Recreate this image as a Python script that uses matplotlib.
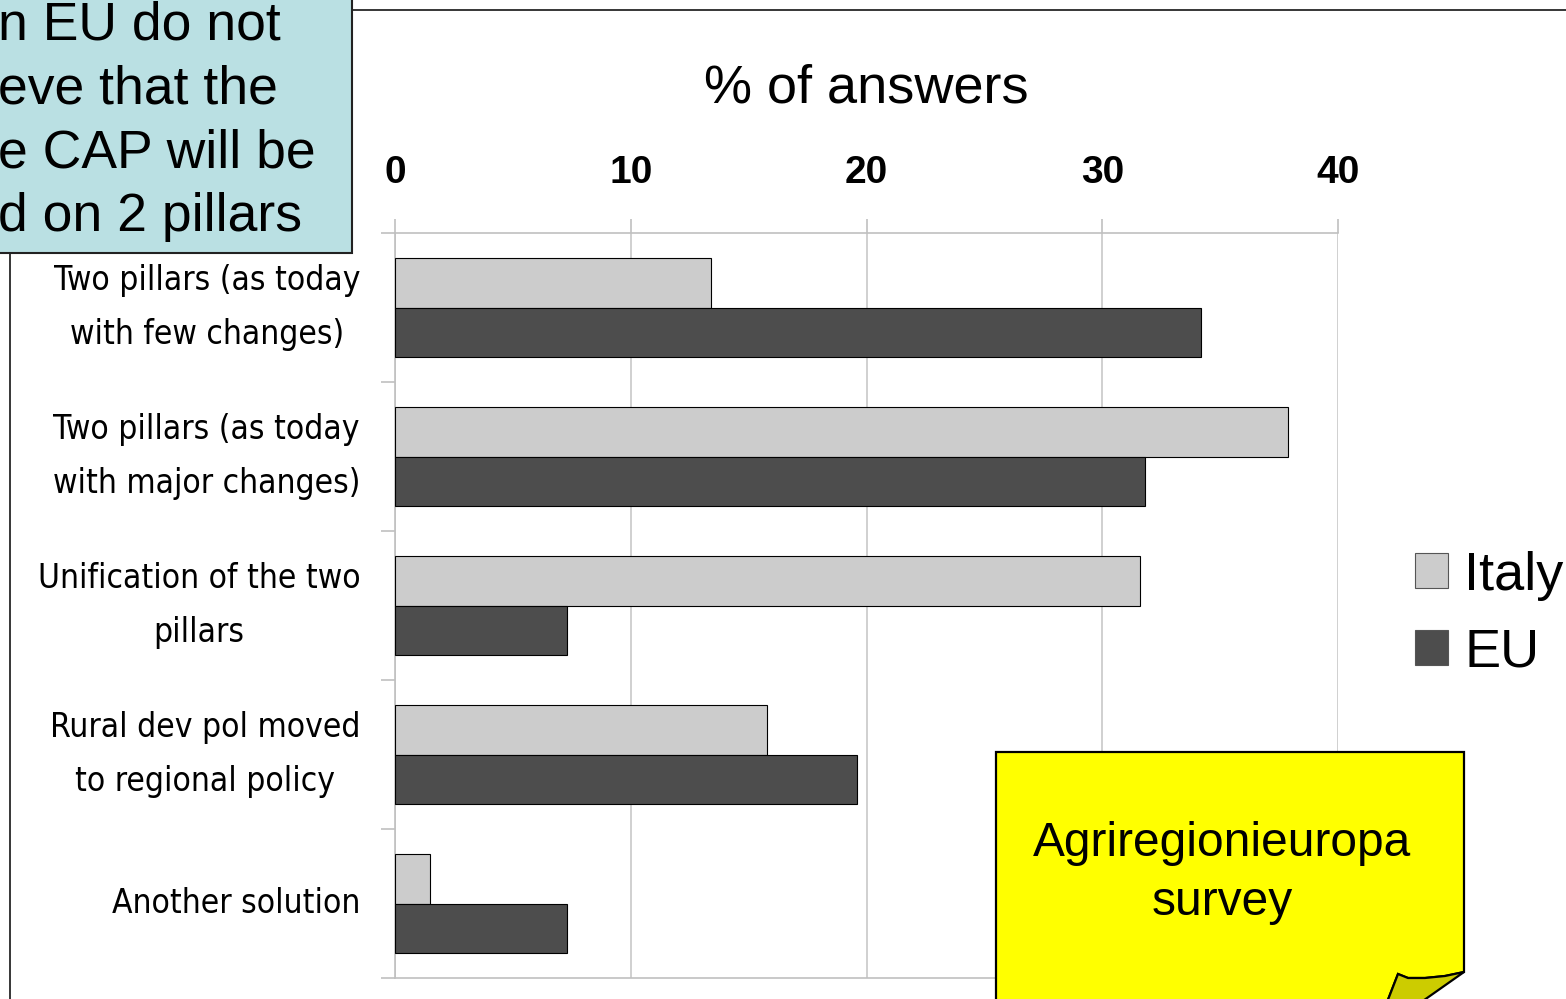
import matplotlib
matplotlib.use('Agg')
from matplotlib import pyplot as plt
from matplotlib import font_manager
from matplotlib.patches import Rectangle, Polygon
from matplotlib.lines import Line2D

W, H = 1566, 999

# data
categories = ['Two pillars (as today\nwith few changes)',
              'Two pillars (as today\nwith major changes)',
              'Unification of the two\npillars',
              'Rural dev pol moved\nto regional policy',
              'Another solution']
italy = [13.4, 37.9, 31.6, 15.8, 1.5]
eu = [34.2, 31.8, 7.3, 19.6, 7.3]
xticks = [0, 10, 20, 30, 40]
box_lines = ['n EU do not', 'eve that the', 'e CAP will be', 'd on 2 pillars']

plt.rcParams['font.family'] = ['Liberation Sans', 'DejaVu Sans']

# condensed font for the category labels, if one is installed
names = {f.name for f in font_manager.fontManager.ttflist}
stretch = {(f.name, f.stretch) for f in font_manager.fontManager.ttflist}
if 'Liberation Sans Narrow' in names:
    lab_font = dict(family='Liberation Sans Narrow', fontsize=29)
elif ('DejaVu Sans', 'condensed') in stretch or ('DejaVu Sans', 'semi-condensed') in stretch:
    lab_font = dict(family='DejaVu Sans', fontstretch='condensed', fontsize=24)
else:
    lab_font = dict(family='Liberation Sans', fontsize=24.5)


def px(x, y):
    # pixel position -> figure fraction
    return (x / W, 1 - y / H)


fig = plt.figure(figsize=(W / 100, H / 100), dpi=100)
ax = fig.add_axes([395 / W, (H - 978) / H, (1338 - 395) / W, (978 - 233) / H])

pos = list(range(len(categories)))
h = 0.335
ax.barh([p - h / 2 for p in pos], italy, height=h, color='#cccccc',
        edgecolor='black', linewidth=0.8, label='Italy', zorder=3)
ax.barh([p + h / 2 for p in pos], eu, height=h, color='#4d4d4d',
        edgecolor='black', linewidth=0.8, label='EU', zorder=3)

ax.set_xlim(0, 40)
ax.set_ylim(len(categories) - 0.5, -0.5)
ax.xaxis.tick_top()
ax.set_xticks(xticks)
ax.set_xticklabels([str(t) for t in xticks], fontsize=28, fontweight='bold')
ax.tick_params(axis='x', direction='out', length=10, width=1.2, color='#c0c0c0', pad=20)
ax.grid(axis='x', color='#c8c8c8', linewidth=1.2, zorder=0)

ax.set_yticks([p - 0.5 for p in pos] + [len(categories) - 0.5])
ax.set_yticklabels([])
ax.set_yticks(pos, minor=True)
ax.set_yticklabels(categories, minor=True, ha='right', va='center',
                   multialignment='center', linespacing=1.79, **lab_font)
ax.tick_params(axis='y', which='major', direction='out', length=10, width=1.2, color='#c0c0c0')
ax.tick_params(axis='y', which='minor', length=0, pad=25)

for s in ['top', 'bottom', 'left']:
    ax.spines[s].set_color('#c0c0c0')
    ax.spines[s].set_linewidth(1.2)
ax.spines['right'].set_visible(False)

ax.xaxis.set_label_position('top')
ax.set_xlabel('% of answers', fontsize=39, labelpad=38)

leg = ax.legend(loc='center left', bbox_to_anchor=px(1415, 614),
                bbox_transform=fig.transFigure, frameon=False, fontsize=39,
                handlelength=0.61, handleheight=0.61, handletextpad=0.3,
                labelspacing=0.49, borderpad=0, borderaxespad=0)
for p in leg.get_patches():
    p.set_edgecolor('#555555')

# slide frame lines
fig.add_artist(Line2D([px(10, 0)[0], px(10, 0)[0]], [px(0, 10)[1], px(0, 1010)[1]],
                      transform=fig.transFigure, color='black', linewidth=1.1, zorder=4))
fig.add_artist(Line2D([px(10, 0)[0], px(1600, 0)[0]], [px(0, 10)[1], px(0, 10)[1]],
                      transform=fig.transFigure, color='black', linewidth=1.1, zorder=4))

# blue text box (partly outside the slide)
x0, y0 = px(-10, 253)
fig.add_artist(Rectangle((x0, y0), 362 / W, 270 / H, transform=fig.transFigure,
                         facecolor='#bae0e3', edgecolor='#222222', linewidth=1.5, zorder=6))
for i, line in enumerate(box_lines):
    fig.text(px(-2, 0)[0], px(0, 40 + i * 63.5)[1], line, fontsize=38.5,
             ha='left', va='baseline', zorder=7)

# yellow note with curled corner
note = [(996, 752), (1464, 752), (1464, 972), (1445, 976), (1425, 978),
        (1408, 978), (1398, 974), (1384, 1010), (996, 1010)]
fig.add_artist(Polygon([px(*p) for p in note], closed=True, transform=fig.transFigure,
                       facecolor='#ffff00', edgecolor='black', linewidth=1.6, zorder=6))
fold = [(1398, 974), (1408, 978), (1425, 978), (1445, 976), (1464, 972),
        (1410, 1010), (1384, 1010)]
fig.add_artist(Polygon([px(*p) for p in fold], closed=True, transform=fig.transFigure,
                       facecolor='#cccc00', edgecolor='black', linewidth=1.6, zorder=6))
fig.text(px(1222, 0)[0], px(0, 873)[1], 'Agriregionieuropa\nsurvey', fontsize=34.5,
         ha='center', va='center', linespacing=1.4, zorder=7)

fig.savefig('out.png', dpi=100)
